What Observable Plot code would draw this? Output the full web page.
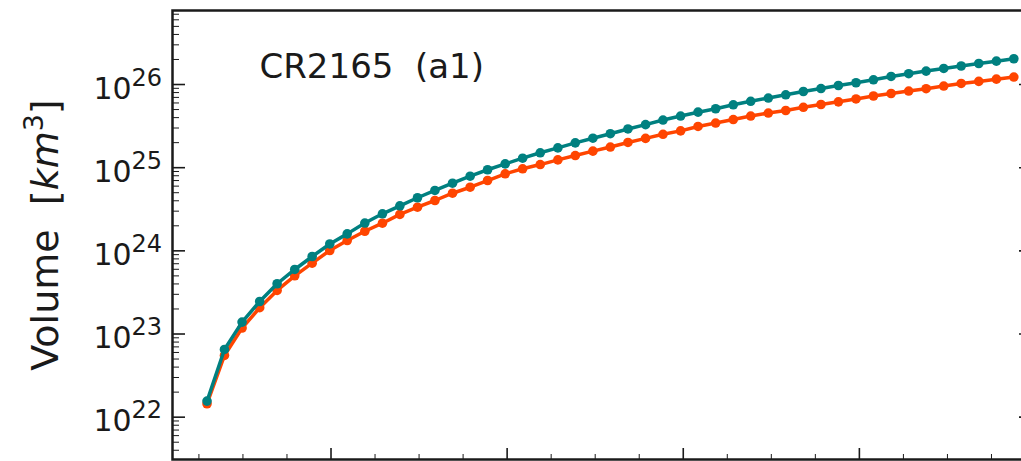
<!DOCTYPE html>
<html>
<head>
<meta charset="utf-8">
<script src="https://cdn.jsdelivr.net/npm/d3@7"></script>
<script src="https://cdn.jsdelivr.net/npm/@observablehq/plot@0.6"></script>
<style>
html, body { margin: 0; padding: 0; overflow: hidden; background: #fff; }
#chart svg { max-width: none !important; display: block; }
</style>
</head>
<body>
<div id="chart"></div>
<script>
// ---- data ----
const xValues = [2.96, 3.95, 4.95, 5.95, 6.94, 7.94, 8.93, 9.93, 10.92, 11.92,
  12.92, 13.91, 14.91, 15.90, 16.90, 17.90, 18.89, 19.89, 20.88, 21.88,
  22.88, 23.87, 24.87, 25.86, 26.86, 27.86, 28.85, 29.85, 30.84, 31.84,
  32.84, 33.83, 34.83, 35.82, 36.82, 37.82, 38.81, 39.81, 40.80, 41.80,
  42.80, 43.79, 44.79, 45.78, 46.78, 47.78, 48.77];
const tealValues = [1.56e22, 6.52e22, 1.39e23, 2.46e23, 4.02e23, 5.97e23, 8.55e23, 1.21e24, 1.60e24, 2.16e24,
  2.79e24, 3.48e24, 4.35e24, 5.32e24, 6.51e24, 7.90e24, 9.44e24, 1.11e25, 1.30e25, 1.51e25,
  1.73e25, 1.99e25, 2.26e25, 2.56e25, 2.92e25, 3.29e25, 3.74e25, 4.18e25, 4.65e25, 5.11e25,
  5.70e25, 6.28e25, 6.88e25, 7.52e25, 8.24e25, 8.95e25, 9.73e25, 1.05e26, 1.14e26, 1.25e26,
  1.35e26, 1.45e26, 1.56e26, 1.67e26, 1.79e26, 1.91e26, 2.04e26];
const orangeValues = [1.45e22, 5.52e22, 1.18e23, 2.07e23, 3.34e23, 5.01e23, 7.11e23, 1.01e24, 1.33e24, 1.72e24,
  2.15e24, 2.74e24, 3.35e24, 4.03e24, 4.93e24, 5.82e24, 7.01e24, 8.44e24, 9.70e24, 1.09e25,
  1.24e25, 1.40e25, 1.58e25, 1.77e25, 2.01e25, 2.25e25, 2.52e25, 2.77e25, 3.13e25, 3.44e25,
  3.79e25, 4.18e25, 4.54e25, 4.87e25, 5.32e25, 5.75e25, 6.19e25, 6.70e25, 7.28e25, 7.80e25,
  8.35e25, 8.91e25, 9.59e25, 1.03e26, 1.09e26, 1.16e26, 1.23e26];
const decadeTicks = [1e22, 1e23, 1e24, 1e25, 1e26];
const decadeExponents = ["22", "23", "24", "25", "26"];
const xMajorTicks = [10, 20, 30, 40];
const xMinorTicks = [2.5, 5, 7.5, 12.5, 15, 17.5, 22.5, 25, 27.5, 32.5, 35, 37.5, 42.5, 45, 47.5];
const titleText = "CR2165  (a1)";
const yLabelMain = "Volume  [";
const yLabelUnit = "km";
const yLabelPower = "3";
const yLabelClose = "]";

// ---- layout ----
const W = 1040, H = 461, mL = 172, mR = 5, mT = 10, mB = 2;
const plotW = W - mL - mR, plotH = H - mT - mB;
const yDomain = [Math.pow(10, 21.491), Math.pow(10, 26.890)];
const minorY = [];
for (let e = 21; e <= 26; e++) for (let k = 2; k <= 9; k++) {
  const v = k * Math.pow(10, e);
  if (v > yDomain[0] && v < yDomain[1]) minorY.push(v);
}
const rows = xValues.map((x, i) => ({x, teal: tealValues[i], orange: orangeValues[i]}));
const ink = "#1a1a1a";
const font = "DejaVu Sans";

const chart = Plot.plot({
  width: W, height: H,
  marginLeft: mL, marginRight: mR, marginTop: mT, marginBottom: mB,
  style: {fontFamily: font, maxWidth: "none", background: "#fff", overflow: "visible"},
  x: {domain: [1, 50], axis: null},
  y: {type: "log", domain: yDomain, axis: null},
  marks: [
    // inward ticks
    Plot.ruleY(minorY, {y: d => d, insetRight: plotW - 7, stroke: ink, strokeWidth: 1}),
    Plot.ruleY(decadeTicks, {y: d => d, insetRight: plotW - 13, stroke: ink, strokeWidth: 1.6}),
    Plot.ruleY(decadeTicks, {y: d => d, insetLeft: plotW - 16, stroke: ink, strokeWidth: 1.6}),
    Plot.ruleX(xMinorTicks, {x: d => d, insetTop: plotH - 5, stroke: ink, strokeWidth: 1}),
    Plot.ruleX(xMajorTicks, {x: d => d, insetTop: plotH - 11, stroke: ink, strokeWidth: 1.6}),
    Plot.frame({stroke: ink, strokeWidth: 2.5}),
    // series
    Plot.line(rows, {x: "x", y: "orange", stroke: "#ff4500", strokeWidth: 3.5}),
    Plot.dot(rows, {x: "x", y: "orange", fill: "#ff4500", r: 4.8}),
    Plot.line(rows, {x: "x", y: "teal", stroke: "#008080", strokeWidth: 3.5}),
    Plot.dot(rows, {x: "x", y: "teal", fill: "#008080", r: 4.8}),
    // y tick labels 10^n
    Plot.text(decadeTicks, {y: d => d, frameAnchor: "left", text: () => "10", dx: -79, dy: 14,
      textAnchor: "start", lineAnchor: "bottom", fontSize: 30, fill: ink, fontFamily: font}),
    Plot.text(decadeTicks, {y: d => d, frameAnchor: "left", text: (d, i) => decadeExponents[i], dx: -41, dy: 1,
      textAnchor: "start", lineAnchor: "bottom", fontSize: 24, fill: ink, fontFamily: font}),
    // panel title
    Plot.text([titleText], {text: d => d, frameAnchor: "top-left", dx: 87, dy: 67,
      textAnchor: "start", lineAnchor: "bottom", fontSize: 34, fill: ink, fontFamily: font})
  ]
});
document.getElementById("chart").append(chart);

// y axis label with italic unit and superscript
const label = d3.select(chart).append("text")
  .attr("transform", "translate(58,235) rotate(-90)")
  .attr("text-anchor", "middle")
  .attr("font-family", font)
  .attr("font-size", 38)
  .attr("fill", ink)
  .attr("xml:space", "preserve")
  .style("white-space", "pre");
label.append("tspan").text(yLabelMain);
label.append("tspan").attr("font-style", "italic").text(yLabelUnit);
label.append("tspan").attr("font-size", 27).attr("dy", -15).text(yLabelPower);
label.append("tspan").attr("dy", 15).text(yLabelClose);
</script>
</body>
</html>
